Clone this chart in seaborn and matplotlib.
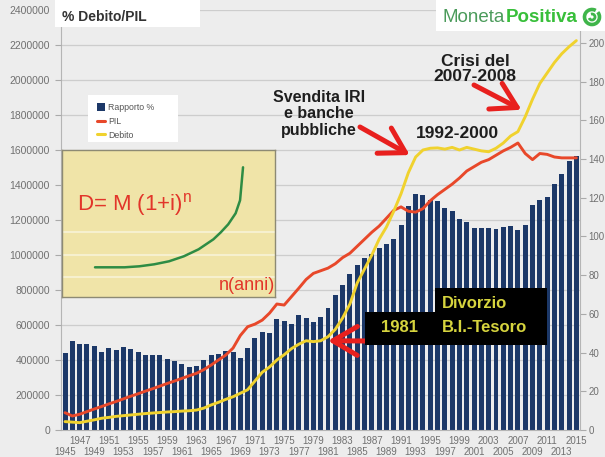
import numpy as np
import pandas as pd
import matplotlib
matplotlib.use("Agg")
import matplotlib.pyplot as plt
import seaborn as sns
from matplotlib.patches import Rectangle, Arc, Patch
from matplotlib.lines import Line2D
from matplotlib.transforms import IdentityTransform

# ---------------- data ----------------
anni = list(range(1945, 2016))

rapporto = [40.0, 46.0, 44.5, 44.3, 43.4, 40.5, 42.5, 41.3, 42.7, 41.7,
            40.2, 38.9, 38.6, 38.6, 36.6, 35.4, 34.3, 32.6, 33.1, 36.4,
            38.5, 39.1, 40.7, 40.3, 37.3, 42.5, 47.7, 50.7, 50.0, 57.1,
            56.3, 54.9, 59.2, 58.0, 56.0, 58.4, 63.2, 69.5, 74.7, 80.8,
            85.0, 89.0, 91.1, 93.8, 96.0, 98.5, 105.8, 115.8, 122.0, 121.4,
            119.0, 118.2, 114.9, 113.0, 108.9, 107.7, 104.6, 104.2, 104.5, 104.0,
            105.0, 105.5, 103.5, 106.0, 116.3, 118.7, 120.4, 127.3, 132.5, 139.0,
            141.6]

pil = [99000, 80000, 90000, 105000, 120000, 134000, 149000, 163000, 178000, 193000,
       207000, 222000, 236000, 251000, 266000, 280000, 295000, 310000, 324000, 345000,
       371000, 400000, 428000, 468000, 540000, 590000, 605000, 628000, 668000, 720000,
       714000, 762000, 810000, 860000, 895000, 910000, 925000, 950000, 985000, 1010000,
       1050000, 1090000, 1130000, 1165000, 1210000, 1255000, 1275000, 1250000, 1245000, 1265000,
       1310000, 1345000, 1375000, 1405000, 1440000, 1480000, 1505000, 1530000, 1545000, 1570000,
       1595000, 1615000, 1640000, 1580000, 1545000, 1580000, 1575000, 1560000, 1555000, 1555000,
       1555000]

debito = [48000, 45000, 42000, 50000, 58000, 67000, 72000, 78000, 82000, 86000,
          90000, 94000, 97000, 100000, 103000, 105000, 108000, 110000, 114000, 125000,
          143000, 158000, 175000, 190000, 210000, 230000, 280000, 330000, 360000, 400000,
          430000, 465000, 490000, 510000, 505000, 510000, 533000, 575000, 640000, 720000,
          840000, 920000, 1000000, 1090000, 1160000, 1250000, 1350000, 1470000, 1560000, 1600000,
          1610000, 1612000, 1605000, 1615000, 1600000, 1615000, 1605000, 1595000, 1590000, 1610000,
          1640000, 1680000, 1705000, 1790000, 1890000, 1980000, 2040000, 2100000, 2150000, 2190000,
          2225000]

left_ticks = list(range(0, 2400001, 200000))
right_ticks = list(range(0, 201, 20))

# inset curve D = M(1+i)^n
inset_n = [0, 2, 3, 4, 5, 6, 7, 8, 8.5, 9, 9.5, 9.8, 10]
inset_d = [1.0, 1.0, 1.1, 1.3, 1.6, 2.1, 2.8, 3.8, 4.5, 5.3, 6.4, 7.7, 11.0]

legend_labels = ["Rapporto %", "PIL", "Debito"]

# ---------------- style ----------------
sns.set_style("white")
plt.rcParams['font.family'] = ['Liberation Sans', 'DejaVu Sans']

BG = "#ededed"
NAVY = "#1c3868"
RED = "#e8482a"
YELLOW = "#f0d22e"
GRID = "#cdcdcd"
TICK = "#707070"

W, H = 605, 457
fig = plt.figure(figsize=(W / 100, H / 100), dpi=100, facecolor=BG)


def fx(x):
    return x / W


def fy(y):
    return 1 - y / H


df = pd.DataFrame({"anno": [str(a) for a in anni], "rapporto": rapporto,
                   "pil": pil, "debito": debito})
df["pos"] = np.arange(len(df))

ax_bar = fig.add_axes([fx(61), fy(430), (580 - 61) / W, 420 / H])
ax_bar.set_facecolor(BG)
ax_line = ax_bar.twinx()

sns.barplot(data=df, x="anno", y="rapporto", color=NAVY, saturation=1,
            width=0.68, ax=ax_bar, edgecolor="none", zorder=2)
ax_bar.set_xlim(-0.55, 70.5)
ax_bar.set_ylim(0, 217)
ax_bar.yaxis.tick_right()
ax_bar.set_yticks(right_ticks)
ax_bar.set_yticklabels([str(v) for v in right_ticks])
ax_bar.set_ylabel("")
ax_bar.set_xlabel("")

# horizontal grid for the left scale, drawn behind the bars
grid_pos = np.array(left_ticks) * 217 / 2400000
ax_bar.set_yticks(grid_pos, minor=True)
ax_bar.grid(False)
ax_bar.grid(True, which="minor", axis="y", color=GRID, lw=0.9, zorder=0)
ax_bar.set_axisbelow(True)
ax_bar.tick_params(axis="y", which="minor", length=0)
ax_bar.tick_params(axis="y", which="major", length=4, color="#aaaaaa",
                   labelsize=7, labelcolor=TICK, pad=2)

# x tick labels on two rows: odd-position years on top, the others below
top_idx = [i for i in range(len(anni)) if (anni[i] - 1945) % 4 == 2]
bot_idx = [i for i in range(len(anni)) if (anni[i] - 1945) % 4 == 0]
ax_bar.set_xticks(top_idx)
ax_bar.set_xticklabels([str(anni[i]) for i in top_idx])
ax_bar.set_xticks(bot_idx, minor=True)
ax_bar.set_xticklabels([str(anni[i]) for i in bot_idx], minor=True)
ax_bar.tick_params(axis="x", which="major", length=0, labelsize=7,
                   labelcolor=TICK, pad=4)
ax_bar.tick_params(axis="x", which="minor", length=0, labelsize=7,
                   labelcolor=TICK, pad=12.5)

for s in ["top"]:
    ax_bar.spines[s].set_visible(False)
for s in ["left", "right", "bottom"]:
    ax_bar.spines[s].set_color("#b5b5b5")
    ax_bar.spines[s].set_linewidth(0.8)

# lines on left scale
sns.lineplot(data=df, x="pos", y="pil", ax=ax_line, color=RED, lw=2.1, zorder=3)
sns.lineplot(data=df, x="pos", y="debito", ax=ax_line, color=YELLOW, lw=2.1, zorder=3)
ax_line.set_ylim(0, 2400000)
ax_line.yaxis.tick_left()
ax_line.set_yticks(left_ticks)
ax_line.set_yticklabels([str(v) for v in left_ticks])
ax_line.tick_params(axis="y", length=4, color="#aaaaaa", labelsize=7.5,
                    labelcolor=TICK, pad=4)
ax_line.set_ylabel("")
ax_line.set_xlabel("")
for s in ax_line.spines.values():
    s.set_visible(False)
ax_line.set_xlim(-0.55, 70.5)

# ---------------- white boxes at top ----------------
fig.add_artist(Rectangle((fx(55), fy(27)), 145 / W, 27 / H, transform=fig.transFigure,
                         facecolor="white", edgecolor="none", zorder=5))
fig.add_artist(Rectangle((fx(436), fy(31)), 169 / W, 31 / H, transform=fig.transFigure,
                         facecolor="white", edgecolor="none", zorder=5))
fig.text(fx(62), fy(17), "% Debito/PIL", fontsize=10, fontweight="bold",
         color="#333333", va="center", ha="left", zorder=6)

# logo
r = fig.canvas.get_renderer()
t1 = fig.text(fx(443), fy(17), "Moneta", fontsize=13.5, color="#4b9b5b",
              va="center", ha="left", zorder=6)
bb = t1.get_window_extent(renderer=r)
fig.text(bb.x1 / W, fy(17), "Positiva", fontsize=13.5, color="#38bf3a",
         fontweight="bold", va="center", ha="left", zorder=6)
fig.add_artist(Arc((592, H - 17), 15, 15, theta1=60, theta2=400, lw=2.6,
                   color="#3fb54a", transform=IdentityTransform(), zorder=6))
fig.add_artist(Arc((592, H - 17), 6, 6, theta1=200, theta2=470, lw=2.0,
                   color="#3fb54a", transform=IdentityTransform(), zorder=6))

# ---------------- legend ----------------
fig.add_artist(Rectangle((fx(88), fy(142)), 90 / W, 47 / H, transform=fig.transFigure,
                         facecolor="white", edgecolor="none", zorder=5))
handles = [Patch(facecolor=NAVY, edgecolor="none"),
           Line2D([0], [0], color=RED, lw=2.2),
           Line2D([0], [0], color=YELLOW, lw=2.2)]
leg = fig.legend(handles, legend_labels, loc="upper left",
                 bbox_to_anchor=(fx(91), fy(97)), frameon=False, fontsize=6.3,
                 handlelength=0.9, handleheight=0.9, handletextpad=0.4,
                 labelspacing=0.55, borderpad=0.2)
leg.set_zorder(6)
for t in leg.get_texts():
    t.set_color("#555555")

# ---------------- inset ----------------
ax_in = fig.add_axes([fx(62), fy(297), (275 - 62) / W, (297 - 150) / H], zorder=4)
ax_in.set_facecolor("#f0e4a8")
sns.lineplot(x=inset_n, y=inset_d, ax=ax_in, color="#2e8c44", lw=1.8)
ax_in.set_xlim(-2.23, 12.16)
ax_in.set_ylim(-1.97, 12.73)
ax_in.set_xticks([])
ax_in.set_yticks([])
ax_in.set_xlabel("")
ax_in.set_ylabel("")
for s in ax_in.spines.values():
    s.set_color("#8d8a74")
    s.set_linewidth(1.0)
for yv in [0.0, 2.2, 4.5]:
    ax_in.axhline(yv, color="white", alpha=0.45, lw=1.5, zorder=0)
ax_in.text(0.07, 0.63, r"D= M (1+i)$^{\mathregular{n}}$", transform=ax_in.transAxes,
           fontsize=16, color="#e2352a", ha="left", va="center")
ax_in.text(1.0, 0.075, "n(anni)", transform=ax_in.transAxes, fontsize=13,
           color="#e2352a", ha="right", va="center", clip_on=False)

# ---------------- annotations ----------------
ARROW_RED = "#e8201e"
fig.text(fx(319), fy(114), "Svendita IRI\ne banche\npubbliche", fontsize=11.5,
         fontweight="bold", color="#1e1e1e", ha="center", va="center",
         multialignment="center", linespacing=1.1, zorder=6)
fig.text(fx(457), fy(133), "1992-2000", fontsize=12.5, fontweight="bold",
         color="#1e1e1e", ha="center", va="center", zorder=6)
fig.text(fx(475), fy(69), "Crisi del\n2007-2008", fontsize=12.5, fontweight="bold",
         color="#1e1e1e", ha="center", va="center", multialignment="center",
         linespacing=1.05, zorder=6)

arrow_kw = dict(arrowstyle="->,head_length=1.1,head_width=0.65", lw=3.6,
                color=ARROW_RED, mutation_scale=16, shrinkA=0, shrinkB=0)
ax_line.annotate("", xy=(47.2, 1571000), xycoords="data",
                 xytext=(fx(360), fy(127)), textcoords="figure fraction",
                 arrowprops=arrow_kw, zorder=7)
ax_line.annotate("", xy=(62.5, 1830000), xycoords="data",
                 xytext=(fx(474), fy(85)), textcoords="figure fraction",
                 arrowprops=arrow_kw, zorder=7)

# Divorzio boxes
fig.add_artist(Rectangle((fx(435), fy(345)), 112 / W, 57 / H, transform=fig.transFigure,
                         facecolor="black", edgecolor="none", zorder=6))
fig.add_artist(Rectangle((fx(365), fy(345)), 72 / W, 33 / H, transform=fig.transFigure,
                         facecolor="black", edgecolor="none", zorder=6))
BOXTXT = "#d6d43e"
fig.text(fx(442), fy(303), "Divorzio", fontsize=12, fontweight="bold", color=BOXTXT,
         ha="left", va="center", zorder=7)
fig.text(fx(442), fy(327), "B.I.-Tesoro", fontsize=12, fontweight="bold", color=BOXTXT,
         ha="left", va="center", zorder=7)
fig.text(fx(400), fy(328), "1981", fontsize=12, fontweight="bold", color=BOXTXT,
         ha="center", va="center", zorder=7)
ax_line.annotate("", xy=(36.0, 510000), xycoords="data",
                 xytext=(fx(368), fy(341)), textcoords="figure fraction",
                 arrowprops=arrow_kw, zorder=7)

fig.savefig("out.png", dpi=100, facecolor=BG)
